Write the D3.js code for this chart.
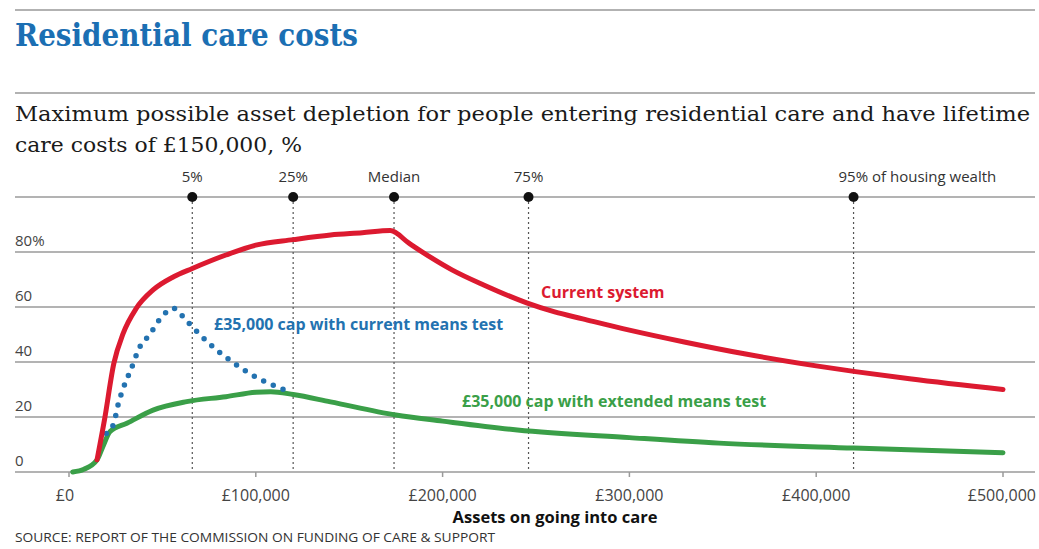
<!DOCTYPE html>
<html>
<head>
<meta charset="utf-8">
<script src="https://cdn.jsdelivr.net/npm/d3@7"></script>
<style>
  body { margin: 0; background: #fff; }
  text { font-family: "Open Sans", "DejaVu Sans", sans-serif; }
</style>
</head>
<body>
<script>
var width = 1039,
  height = 549;

// asset values in £ thousands, depletion in %
var redAssets = [15, 19, 24, 29, 36, 45, 56, 66, 84, 100, 120, 140, 157, 172, 182, 193, 205, 222, 245, 260, 275, 300, 330, 363, 400, 421, 450, 500];
var redValues = [4.4, 19, 39.5, 50.4, 59.5, 66.2, 71, 74, 78.9, 82.5, 84.5, 86.2, 87, 87.8, 83.2, 78.3, 73.5, 68, 61.5, 58.2, 55.7, 51.6, 47.2, 42.8, 38.6, 36.5, 33.9, 30];

var blueAssets = [20, 24, 26, 30, 33, 38, 43, 50, 56, 61, 66, 75, 86, 98, 106, 117];
var blueValues = [14, 17.7, 23.7, 32.2, 37, 45.6, 49.8, 56.7, 59.5, 56.5, 52.8, 46.8, 40.7, 35.3, 32.5, 29.5];

var greenAssets = [2, 8, 15, 18, 22, 31, 45, 63, 84, 100, 108, 120, 140, 175, 200, 240, 300, 348, 420, 500];
var greenValues = [0, 1, 4.4, 9, 14.7, 17.7, 22.5, 25.6, 27.4, 29, 29.2, 28.2, 25.5, 20.7, 18.5, 15.3, 12.5, 10.5, 8.7, 7];

var percentileAssets = [66, 120, 174, 246, 420];
var percentileLabels = ["5%", "25%", "Median", "75%", "95%"];

var yTicks = [0, 20, 40, 60, 80];
var yTickLabels = ["0", "20", "40", "60", "80%"];
var xTicks = [0, 100, 200, 300, 400, 500];
var xTickLabels = ["£0", "£100,000", "£200,000", "£300,000", "£400,000", "£500,000"];

var red = "#dc1a30", blue = "#2372b0", green = "#3a9f48", grid = "#9a9a9a";

var svg = d3.select("body").append("svg")
  .attr("width", width)
  .attr("height", height);

var x = d3.scaleLinear().domain([0, 500]).range([69, 1003]);
var y = d3.scaleLinear().domain([0, 100]).range([472, 197]);

// header rules and titles
svg.append("line").attr("x1", 15).attr("x2", 1035).attr("y1", 10).attr("y2", 10)
  .attr("stroke", "#999").attr("stroke-width", 1.5);
svg.append("text").attr("x", 15).attr("y", 46)
  .style("font-family", "'DejaVu Serif', serif").style("font-weight", "bold")
  .style("font-size", "31px").attr("fill", "#1b6fb3")
  .attr("textLength", 343).attr("lengthAdjust", "spacingAndGlyphs")
  .text("Residential care costs");
svg.append("line").attr("x1", 15).attr("x2", 1035).attr("y1", 93).attr("y2", 93)
  .attr("stroke", "#999").attr("stroke-width", 1.5);
svg.append("text").attr("x", 15).attr("y", 121)
  .style("font-family", "'DejaVu Serif', serif").style("font-size", "21px").attr("fill", "#1a1a1a")
  .attr("textLength", 1015).attr("lengthAdjust", "spacingAndGlyphs")
  .text("Maximum possible asset depletion for people entering residential care and have lifetime");
svg.append("text").attr("x", 15).attr("y", 152)
  .style("font-family", "'DejaVu Serif', serif").style("font-size", "21px").attr("fill", "#1a1a1a")
  .attr("textLength", 287).attr("lengthAdjust", "spacingAndGlyphs")
  .text("care costs of £150,000, %");

// gridlines
svg.append("g").selectAll("line")
  .data(yTicks.concat([100]))
  .enter().append("line")
    .attr("x1", 15).attr("x2", 1035)
    .attr("y1", function(d) { return y(d); })
    .attr("y2", function(d) { return y(d); })
    .attr("stroke", grid).attr("stroke-width", 1.5);

svg.append("g").selectAll("text")
  .data(yTicks)
  .enter().append("text")
    .attr("x", 15)
    .attr("y", function(d) { return y(d) - 6; })
    .attr("fill", "#444").style("font-size", "15px")
    .text(function(d, i) { return yTickLabels[i]; });

// x axis ticks
svg.append("g").selectAll("line")
  .data(xTicks)
  .enter().append("line")
    .attr("x1", function(d) { return x(d); })
    .attr("x2", function(d) { return x(d); })
    .attr("y1", y(0)).attr("y2", y(0) + 5)
    .attr("stroke", grid).attr("stroke-width", 1.5);

svg.append("g").selectAll("text")
  .data(xTicks)
  .enter().append("text")
    .attr("x", function(d, i) { return i == 5 ? 1036 : x(d) - (i == 0 ? 4 : 0); })
    .attr("y", 501)
    .attr("text-anchor", function(d, i) { return i == 5 ? "end" : "middle"; })
    .attr("fill", "#444").style("font-size", "16px")
    .text(function(d, i) { return xTickLabels[i]; });

svg.append("text").attr("x", 555).attr("y", 523)
  .attr("text-anchor", "middle").attr("fill", "#111")
  .style("font-size", "16.5px").style("font-weight", "bold")
  .text("Assets on going into care");

svg.append("text").attr("x", 15).attr("y", 542)
  .attr("fill", "#333").style("font-size", "12px")
  .attr("textLength", 480).attr("lengthAdjust", "spacingAndGlyphs")
  .text("SOURCE: REPORT OF THE COMMISSION ON FUNDING OF CARE & SUPPORT");

// percentile markers
var pct = svg.append("g").selectAll("g")
  .data(percentileAssets)
  .enter().append("g");

pct.append("line")
  .attr("x1", function(d) { return x(d); })
  .attr("x2", function(d) { return x(d); })
  .attr("y1", y(100)).attr("y2", y(0))
  .attr("stroke", "#555").attr("stroke-width", 1.2)
  .attr("stroke-dasharray", "2,3");

pct.append("circle")
  .attr("cx", function(d) { return x(d); })
  .attr("cy", y(100))
  .attr("r", 5)
  .attr("fill", "#111");

pct.append("text")
  .attr("x", function(d) { return x(d); })
  .attr("y", 182)
  .attr("text-anchor", function(d, i) { return i == 4 ? "start" : "middle"; })
  .attr("dx", function(d, i) { return i == 4 ? -15 : 0; })
  .attr("fill", "#333").style("font-size", "15px")
  .text(function(d, i) { return i == 4 ? percentileLabels[i] + " of housing wealth" : percentileLabels[i]; });

// lines
function series(assets, values) {
  return assets.map(function(a, i) { return [a, values[i]]; });
}

var line = d3.line()
  .x(function(d) { return x(d[0]); })
  .y(function(d) { return y(d[1]); })
  .curve(d3.curveMonotoneX);

svg.append("path").datum(series(greenAssets, greenValues))
  .attr("d", line).attr("fill", "none")
  .attr("stroke", green).attr("stroke-width", 5).attr("stroke-linecap", "round");

svg.append("path").datum(series(blueAssets, blueValues))
  .attr("d", line).attr("fill", "none")
  .attr("stroke", blue).attr("stroke-width", 5.5)
  .attr("stroke-linecap", "round").attr("stroke-dasharray", "0,10.5");

svg.append("path").datum(series(redAssets, redValues))
  .attr("d", line).attr("fill", "none")
  .attr("stroke", red).attr("stroke-width", 5).attr("stroke-linecap", "round");

// series labels
svg.append("text").attr("x", 541).attr("y", 298)
  .attr("fill", red).style("font-size", "16px").style("font-weight", "bold")
  .text("Current system");
svg.append("text").attr("x", 214).attr("y", 330)
  .attr("fill", blue).style("font-size", "16px").style("font-weight", "bold")
  .text("£35,000 cap with current means test");
svg.append("text").attr("x", 462).attr("y", 407)
  .attr("fill", green).style("font-size", "16px").style("font-weight", "bold")
  .text("£35,000 cap with extended means test");
</script>
</body>
</html>
